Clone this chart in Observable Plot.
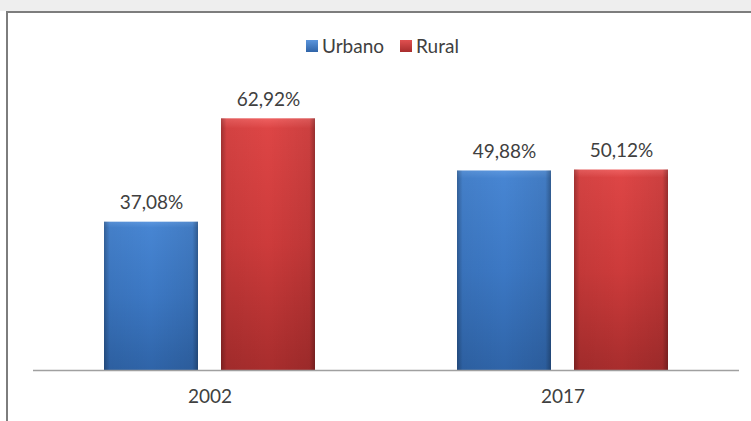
<!DOCTYPE html>
<html>
<head>
<meta charset="utf-8">
<script src="https://cdn.jsdelivr.net/npm/d3@7"></script>
<script src="https://cdn.jsdelivr.net/npm/@observablehq/plot@0.6"></script>
<style>
  body { margin: 0; background: #fff; }
  #wrap { position: relative; width: 751px; height: 421px; overflow: hidden; font-family: Lato, "Open Sans", sans-serif; }
  #topband { position: absolute; left: 0; top: 0; width: 751px; height: 11px; background: #eeeeee; }
  #frame { position: absolute; left: 6px; top: 11px; width: 760px; height: 420px; border-top: 2px solid #7d7d7d; border-left: 2px solid #7d7d7d; box-sizing: border-box; }
  #chart { position: absolute; left: 0; top: 0; }
  #legend { position: absolute; left: 306px; top: 34px; display: flex; align-items: center; font-size: 19px; color: #404040; line-height: 24px; }
  .sw { display: inline-block; width: 12px; height: 12px; margin-right: 4px; }
  .item { display: flex; align-items: center; margin-right: 16px; }
</style>
</head>
<body>
<div id="wrap">
  <div id="topband"></div>
  <div id="frame"></div>
  <div id="chart"></div>
  <div id="legend"></div>
</div>
<script>
const years = ["2002", "2017"];
const series = ["Urbano", "Rural"];
const urbano = [37.08, 49.88];
const rural = [62.92, 50.12];
const seriesColors = ["url(#gBlue)", "url(#gRed)"];

const data = [];
years.forEach((y, i) => {
  data.push({year: y, serie: "Urbano", value: urbano[i]});
  data.push({year: y, serie: "Rural", value: rural[i]});
});
const fmt = v => v.toFixed(2).replace(".", ",") + "%";

const chart = Plot.plot({
  width: 751,
  height: 421,
  marginLeft: 32,
  marginRight: 12,
  marginTop: 90,
  marginBottom: 51,
  style: {fontFamily: "Lato, 'Open Sans', sans-serif", background: "transparent"},
  fx: {domain: years, padding: 0, label: null},
  x: {domain: series, paddingInner: 0.2, paddingOuter: 0.6, axis: null},
  y: {domain: [0, 70], axis: null},
  marks: [
    Plot.barY(data.filter(d => d.serie === "Urbano"), {fx: "year", x: "serie", y: "value", fill: seriesColors[0]}),
    Plot.barY(data.filter(d => d.serie === "Rural"), {fx: "year", x: "serie", y: "value", fill: seriesColors[1]}),
    Plot.barY(data, {fx: "year", x: "serie", y: "value", fill: "url(#gEdge)"}),
    Plot.ruleY([0], {stroke: "#a0a0a0", strokeWidth: 1.5}),
    Plot.text(data, {fx: "year", x: "serie", y: "value", text: d => fmt(d.value), lineAnchor: "bottom", dy: -13, fontSize: 19, fill: "#404040"}),
    Plot.axisFx({anchor: "bottom", tickSize: 0, tickPadding: 19, fontSize: 19, fill: "#404040", label: null})
  ]
});

d3.select(chart).insert("defs", ":first-child").html(`
  <linearGradient id="gBlue" x1="0" y1="0" x2="0" y2="1">
    <stop offset="0" stop-color="#5b96de"/>
    <stop offset="0.04" stop-color="#4785d2"/>
    <stop offset="0.5" stop-color="#3c78c4"/>
    <stop offset="1" stop-color="#2f64a8"/>
  </linearGradient>
  <linearGradient id="gRed" x1="0" y1="0" x2="0" y2="1">
    <stop offset="0" stop-color="#ee6060"/>
    <stop offset="0.04" stop-color="#dd4545"/>
    <stop offset="0.5" stop-color="#cd3b3b"/>
    <stop offset="1" stop-color="#a82d2d"/>
  </linearGradient>
  <linearGradient id="gEdge" x1="0" y1="0" x2="1" y2="0">
    <stop offset="0" stop-color="#000" stop-opacity="0.28"/>
    <stop offset="0.06" stop-color="#000" stop-opacity="0.05"/>
    <stop offset="0.5" stop-color="#000" stop-opacity="0"/>
    <stop offset="0.94" stop-color="#000" stop-opacity="0.08"/>
    <stop offset="1" stop-color="#000" stop-opacity="0.32"/>
  </linearGradient>
`);
document.getElementById("chart").appendChild(chart);

const legend = document.getElementById("legend");
const swatchCss = ["linear-gradient(#5b95dc,#2f64a8)", "linear-gradient(#e05050,#a82d2d)"];
series.forEach((s, i) => {
  const item = document.createElement("div");
  item.className = "item";
  const sw = document.createElement("span");
  sw.className = "sw";
  sw.style.background = swatchCss[i];
  item.appendChild(sw);
  item.appendChild(document.createTextNode(s));
  legend.appendChild(item);
});
</script>
</body>
</html>
